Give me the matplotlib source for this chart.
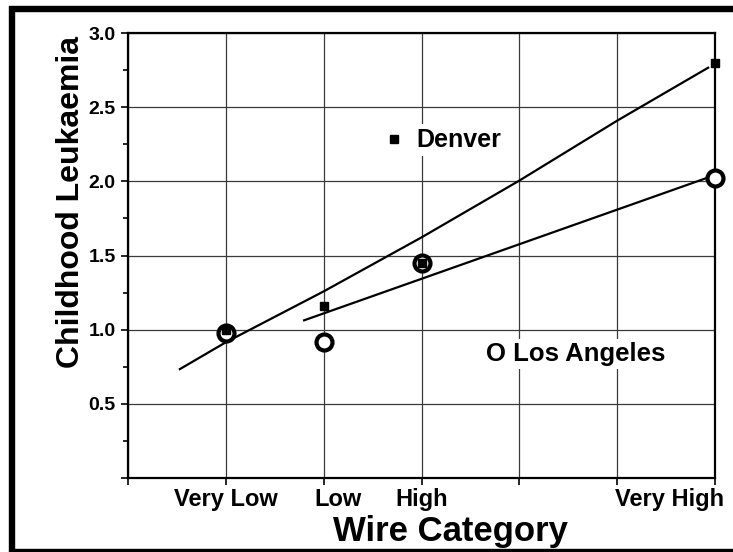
import numpy as np
import matplotlib
matplotlib.use("Agg")
import matplotlib.pyplot as plt
from matplotlib.patches import Rectangle
from matplotlib.transforms import ScaledTranslation

plt.rcParams['font.family'] = ['Liberation Sans', 'DejaVu Sans']
plt.rcParams['font.weight'] = 'bold'

# wire categories (x positions 0..6, labels only at some of them)
tick_pos = [0, 1, 2, 3, 4, 5, 6]
tick_labels = ['', 'Very Low', 'Low', 'High', '', '', 'Very High']

# observed relative risk per category
cat_x = [1, 2, 3, 6]
denver = [1.00, 1.16, 1.45, 2.80]
los_angeles = [0.98, 0.915, 1.447, 2.02]

# fitted lines
denver_fit_x = [0.53, 1, 2, 3, 4, 5, 5.93]
denver_fit_y = [0.734, 0.915, 1.258, 1.622, 2.005, 2.409, 2.766]
la_fit_x = [1.8, 5.93]
la_fit_y = [1.063, 2.026]

fig = plt.figure(figsize=(7.33, 5.52), dpi=100)
ax = fig.add_axes([128 / 733, 1 - 478 / 552, 587 / 733, 445 / 552])

ax.set_xlim(0, 6)
ax.set_ylim(0, 3)
ax.set_xticks(tick_pos)
ax.set_xticklabels(tick_labels)
ax.set_yticks(np.arange(0, 3.01, 0.5))
ax.set_yticklabels(['', '0.5', '1.0', '1.5', '2.0', '2.5', '3.0'])
ax.set_yticks(np.arange(0.25, 3, 0.5), minor=True)

ax.grid(True, which='major', color='#3a3a3a', lw=0.9)
ax.set_axisbelow(True)
for sp in ax.spines.values():
    sp.set_linewidth(1.6)
    sp.set_color('black')

ax.tick_params(axis='y', which='major', length=5, width=1.2, pad=4, labelsize=14)
ax.tick_params(axis='y', which='minor', length=3.6, width=1.2)
ax.tick_params(axis='x', which='major', length=5, width=1.2, pad=2.5, labelsize=17)

# nudge the x labels the way the original is laid out
shifts = {2: 10, 6: -33}
for i, lab in enumerate(ax.get_xticklabels()):
    if i in shifts:
        lab.set_transform(lab.get_transform() +
                          ScaledTranslation(shifts[i] / 72, 0, fig.dpi_scale_trans))

# lines
ax.plot(denver_fit_x, denver_fit_y, color='black', lw=1.6, zorder=3)
ax.plot(la_fit_x, la_fit_y, color='black', lw=1.6, zorder=3)

# markers
ax.plot(cat_x, los_angeles, 'o', ms=11.5, mfc='white', mec='black', mew=3.0,
        clip_on=False, zorder=5)
ax.plot(cat_x, denver, 's', ms=5.5, color='black', clip_on=False, zorder=6)

# in-plot legend
ax.plot([2.72], [2.285], 's', ms=5.5, color='black', zorder=6)
ax.text(2.95, 2.28, 'Denver', fontsize=18, fontweight='bold', va='center', ha='left',
        bbox=dict(fc='white', ec='none', pad=3), zorder=4)
ax.text(3.66, 0.835, 'O Los Angeles', fontsize=18.5, fontweight='bold', va='center',
        ha='left', bbox=dict(fc='white', ec='none', pad=2), zorder=4)

ax.set_ylabel('Childhood Leukaemia', fontsize=23, fontweight='bold')
ax.yaxis.set_label_coords(-0.072, 0.62)
ax.set_xlabel('Wire Category', fontsize=25, fontweight='bold')
ax.xaxis.set_label_coords(0.5486, -0.083)

# heavy frame round the whole picture
fig.add_artist(Rectangle((12 / 733, 0.0), 1.05, 1 - 9 / 552, transform=fig.transFigure,
                         fill=False, ec='black', lw=4.6, clip_on=False))

fig.savefig('out.png', dpi=100)
